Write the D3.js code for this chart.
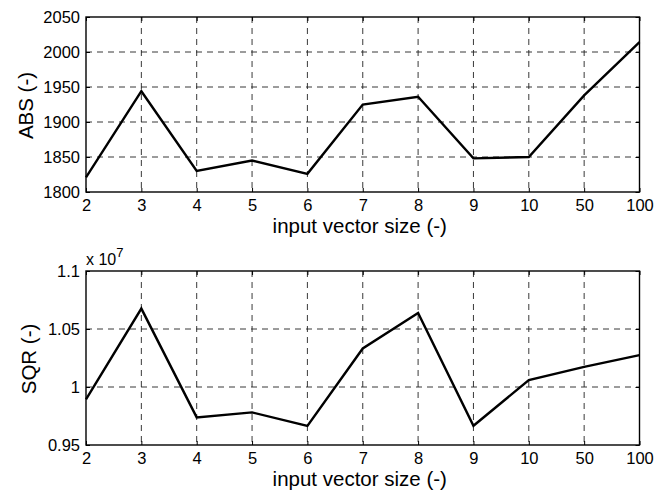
<!DOCTYPE html>
<html>
<head>
<meta charset="utf-8">
<script src="https://cdn.jsdelivr.net/npm/d3@7"></script>
<style>
  html, body { margin: 0; padding: 0; background: #fff; }
  svg { display: block; font-family: "Liberation Sans", Arial, sans-serif; }
</style>
</head>
<body>
<svg id="chart" width="667" height="493"></svg>
<script>
// ---- data ----
const categories = ["2", "3", "4", "5", "6", "7", "8", "9", "10", "50", "100"];
const absValues = [1821, 1944, 1830, 1845, 1826, 1925, 1936, 1848, 1850, 1938, 2014];
const sqrValues = [0.9893, 1.0676, 0.9738, 0.9781, 0.9664, 1.0332, 1.0639, 0.9666, 1.0059, 1.0174, 1.0275]; // x 10^7
const absTicks = [1800, 1850, 1900, 1950, 2000, 2050];
const sqrTicks = [0.95, 1, 1.05, 1.1];
const sqrTickLabels = ["0.95", "1", "1.05", "1.1"];
const xLabel = "input vector size (-)";
const absLabel = "ABS (-)";
const sqrLabel = "SQR (-)";

const svg = d3.select("#chart");
const left = 86, right = 639.5;

function panel(cfg) {
  const g = svg.append("g");
  const x = d3.scalePoint().domain(categories).range([left, right]).padding(0);
  const y = d3.scaleLinear().domain(cfg.domain).range([cfg.bottom, cfg.top]);

  // grid
  g.append("g").selectAll("line.vg").data(categories.slice(1, -1)).join("line")
    .attr("x1", d => x(d)).attr("x2", d => x(d))
    .attr("y1", cfg.top).attr("y2", cfg.bottom)
    .attr("stroke", "#222").attr("stroke-width", 0.9).attr("stroke-dasharray", "6,5");
  g.append("g").selectAll("line.hg").data(cfg.ticks.slice(1, -1)).join("line")
    .attr("x1", left).attr("x2", right)
    .attr("y1", d => y(d)).attr("y2", d => y(d))
    .attr("stroke", "#222").attr("stroke-width", 0.9).attr("stroke-dasharray", "6,5");

  // axes
  const xAxis = d3.axisBottom(x).tickSizeInner(-4).tickSizeOuter(0).tickPadding(7);
  const xg = g.append("g").attr("transform", `translate(0,${cfg.bottom})`).call(xAxis);
  const yAxis = d3.axisLeft(y).tickValues(cfg.ticks).tickFormat((d, i) => cfg.tickLabels[i])
    .tickSizeInner(-4).tickSizeOuter(0).tickPadding(6);
  const yg = g.append("g").attr("transform", `translate(${left},0)`).call(yAxis);
  // top / right ticks
  const xAxisT = d3.axisTop(x).tickSizeInner(-4).tickSizeOuter(0).tickFormat("");
  g.append("g").attr("transform", `translate(0,${cfg.top})`).call(xAxisT);
  const yAxisR = d3.axisRight(y).tickValues(cfg.ticks).tickSizeInner(-4).tickSizeOuter(0).tickFormat("");
  g.append("g").attr("transform", `translate(${right},0)`).call(yAxisR);

  g.selectAll(".domain").remove();
  g.selectAll(".tick line").attr("stroke", "#000").attr("stroke-width", 1);
  g.selectAll(".tick text").attr("font-size", 16.5).attr("fill", "#000")
    .attr("font-family", "'Liberation Sans', Arial, sans-serif");

  // box
  g.append("rect").attr("x", left).attr("y", cfg.top)
    .attr("width", right - left).attr("height", cfg.bottom - cfg.top)
    .attr("fill", "none").attr("stroke", "#000").attr("stroke-width", 1.4);

  // line
  const line = d3.line().x((d, i) => x(categories[i])).y(d => y(d));
  g.append("path").datum(cfg.values).attr("d", line)
    .attr("fill", "none").attr("stroke", "#000").attr("stroke-width", 2.4)
    .attr("stroke-linejoin", "miter");

  // labels
  g.append("text").attr("x", (left + right) / 2 - 3).attr("y", cfg.bottom + 41)
    .attr("text-anchor", "middle").attr("font-size", 20.5).text(xLabel);
  g.append("text")
    .attr("transform", `translate(${cfg.ylabelX},${(cfg.top + cfg.bottom) / 2 + 1}) rotate(-90)`)
    .attr("text-anchor", "middle").attr("font-size", 20.5).text(cfg.ylabel);
  return g;
}

panel({ domain: [1800, 2050], top: 17, bottom: 192, values: absValues, ticks: absTicks,
        tickLabels: absTicks.map(String), ylabel: absLabel, ylabelX: 33 });
const g2 = panel({ domain: [0.95, 1.1], top: 271, bottom: 445, values: sqrValues, ticks: sqrTicks,
        tickLabels: sqrTickLabels, ylabel: sqrLabel, ylabelX: 36 });

// exponent label
const ex = g2.append("text").attr("x", 86).attr("y", 265).attr("font-size", 16);
ex.append("tspan").text("x 10");
ex.append("tspan").attr("dy", -8).attr("font-size", 13).text("7");
</script>
</body>
</html>
